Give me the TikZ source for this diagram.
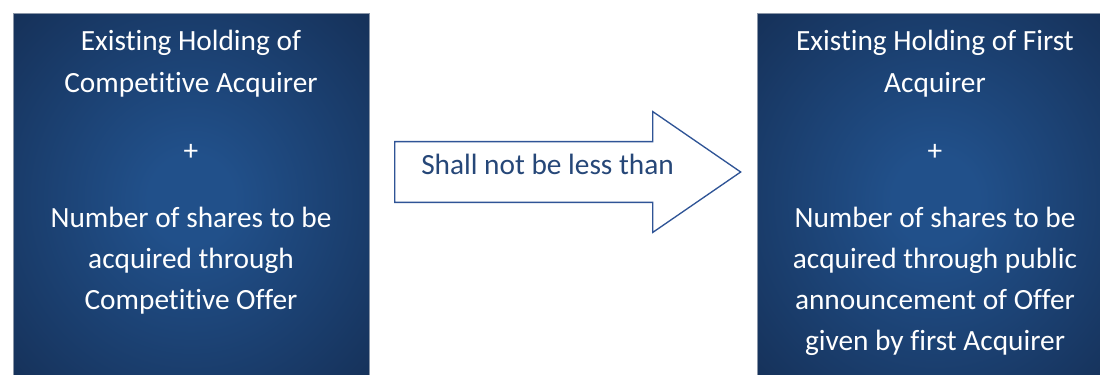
\documentclass[tikz,border=0pt]{standalone}
\usepackage{fontspec}
\setmainfont{Carlito}[Ligatures=NoCommon]
\usetikzlibrary{positioning,shapes.arrows}
\definecolor{panelin}{HTML}{21508A}
\definecolor{panelout}{HTML}{132A4E}
\definecolor{panelrule}{HTML}{8A96A8}
\definecolor{arrowline}{HTML}{2F5496}
\definecolor{arrowtext}{HTML}{264778}
\pgfdeclareradialshading{panelglow}{\pgfpoint{0bp}{0bp}}{color(0bp)=(panelin); color(6bp)=(panelin); color(42bp)=(panelout); color(72bp)=(panelout)}
\tikzset{
  panel/.style={draw=panelrule,line width=0.5pt,shade,shading=panelglow,
    minimum width=267pt,minimum height=279pt,anchor=north,inner sep=0pt},
  paneltext/.style={text=white,align=center,inner sep=0pt,
    font=\fontsize{22}{30.8}\selectfont},
  compare/.style={single arrow,draw=arrowline,fill=white,line width=1pt,
    minimum height=259.5pt,minimum width=89.5pt,single arrow head extend=22.5pt,
    single arrow tip angle=69,inner xsep=0pt,inner ysep=22.3pt,anchor=tail},
  comparetext/.style={text=arrowtext,inner sep=0pt,anchor=base west,
    font=\fontsize{22}{26}\selectfont}
}
\begin{document}
\begin{tikzpicture}[x=0.75pt,y=-0.75pt]
  \path[use as bounding box,clip] (0,0) rectangle (1100,375);
  \node[panel] (lbox) at (191,13) {};
  \node[paneltext,below=13pt of lbox.north] (ltext) {Existing Holding of\\Competitive Acquirer\\[20.5pt]+\\[19.5pt]Number of shares to be\\acquired through\\Competitive Offer};
  \node[compare] (cmp) at (394,172) {};
  \node[comparetext] (cmptext) at (421,174) {Shall not be less than};
  \node[panel] (rbox) at (935,13) {};
  \node[paneltext,below=13pt of rbox.north] (rtext) {Existing Holding of First\\Acquirer\\[20.5pt]+\\[19.5pt]Number of shares to be\\acquired through public\\announcement of Offer\\given by first Acquirer};
\end{tikzpicture}
\end{document}
